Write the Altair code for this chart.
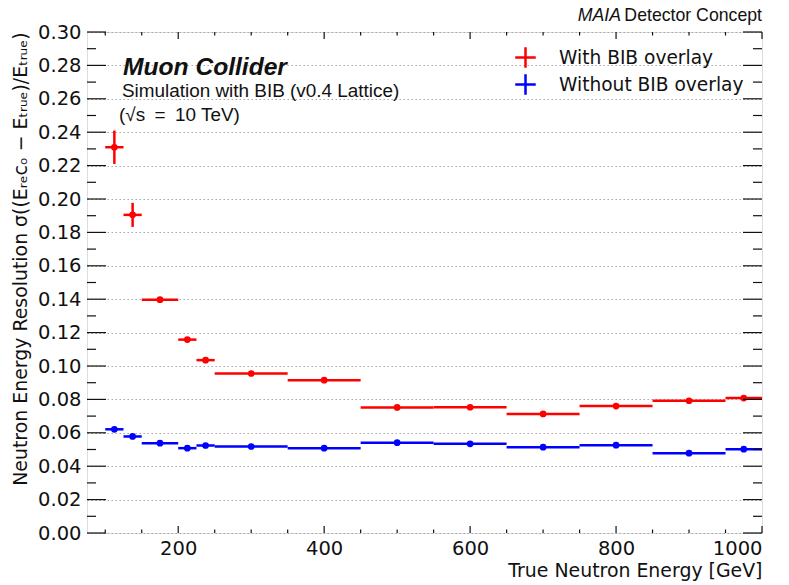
import altair as alt
import pandas as pd

# ---------------- data ----------------
bin_lo = [100, 125, 150, 200, 225, 250, 350, 450, 550, 650, 750, 850, 950]
bin_hi = [125, 150, 200, 225, 250, 350, 450, 550, 650, 750, 850, 950, 1000]
bin_center = [112.5, 137.5, 175, 212.5, 237.5, 300, 400, 500, 600, 700, 800, 900, 975]

res_bib = [0.231, 0.1905, 0.1397, 0.1158, 0.1035, 0.0955, 0.0915, 0.0752, 0.0753, 0.0713, 0.0760, 0.0792, 0.0808]
err_bib = [0.0100, 0.0072, 0.0013, 0.0015, 0.0015, 0.0010, 0.0010, 0.0008, 0.0008, 0.0008, 0.0008, 0.0008, 0.0008]

res_nobib = [0.0621, 0.0578, 0.0538, 0.0508, 0.0524, 0.0518, 0.0508, 0.0541, 0.0534, 0.0514, 0.0526, 0.0478, 0.0502]
err_nobib = [0.0012, 0.0010, 0.0008, 0.0008, 0.0008, 0.0006, 0.0006, 0.0006, 0.0006, 0.0006, 0.0006, 0.0006, 0.0006]

series_names = ["With BIB overlay", "Without BIB overlay"]
series_colors = ["#ff0000", "#0000ff"]

y_major = [0.00, 0.02, 0.04, 0.06, 0.08, 0.10, 0.12, 0.14, 0.16, 0.18, 0.20, 0.22, 0.24, 0.26, 0.28, 0.30]
y_minor = [0.01, 0.03, 0.05, 0.07, 0.09, 0.11, 0.13, 0.15, 0.17, 0.19, 0.21, 0.23, 0.25, 0.27, 0.29]
x_major = [200, 400, 600, 800, 1000]
x_minor = [100, 150, 250, 300, 350, 450, 500, 550, 650, 700, 750, 850, 900, 950]

x_domain = [75, 1000]
y_domain = [0.0, 0.30]

# ---------------- layout ----------------
W, H = 675, 501
PAD = {"left": 87, "top": 32, "right": 27, "bottom": 52}

rows = []
for name, vals, errs in [(series_names[0], res_bib, err_bib), (series_names[1], res_nobib, err_nobib)]:
    for lo, hi, c, v, e in zip(bin_lo, bin_hi, bin_center, vals, errs):
        rows.append({"series": name, "lo": lo, "hi": hi, "center": c, "val": v,
                     "ylo": v - e, "yhi": v + e})
df = pd.DataFrame(rows)

xs = alt.Scale(domain=x_domain, nice=False, zero=False)
ys = alt.Scale(domain=y_domain, nice=False, zero=False)
cs = alt.Scale(domain=series_names, range=series_colors)

legend = alt.Legend(
    title=None, orient="none", legendX=427, legendY=14, padding=0,
    symbolType="M-1,0H1M0,-1V1", symbolSize=420, symbolStrokeWidth=2.5,
    labelFont="DejaVu Sans", labelFontSize=18.6, labelColor="#111111",
    labelOffset=22, rowPadding=-4, labelLimit=0, symbolFillColor="transparent",
)

xaxis = alt.Axis(
    values=x_major, format="d", ticks=False, tickSize=0, domain=False, grid=False,
    labelFont="DejaVu Sans", labelFontSize=19.5, labelColor="#111111", labelPadding=6,
    title="True Neutron Energy [GeV]", titleFont="DejaVu Sans", titleFontSize=18.9,
    titleFontWeight="normal", titleColor="#111111", titleAnchor="end", titlePadding=4,
)
yaxis = alt.Axis(
    values=y_major, format=".2f", ticks=False, tickSize=0, domain=False, grid=True,
    gridColor="#a8a8a8", gridDash=[1.5, 2.5], gridWidth=1,
    labelFont="DejaVu Sans", labelFontSize=19.5, labelColor="#111111", labelPadding=6,
    title="Neutron Energy Resolution σ((Eᵣₑcₒ − Eₜᵣᵤₑ)/Eₜᵣᵤₑ)",
    titleFont="DejaVu Sans", titleFontSize=18.9, titleFontWeight="normal",
    titleColor="#111111", titleAnchor="end", titlePadding=7,
)

base = alt.Chart(df)
hbar = base.mark_rule(strokeWidth=2.5).encode(
    x=alt.X("lo:Q", scale=xs, axis=xaxis),
    x2="hi:Q",
    y=alt.Y("val:Q", scale=ys, axis=yaxis),
    color=alt.Color("series:N", scale=cs, legend=legend),
)
vbar = base.mark_rule(strokeWidth=2.5).encode(
    x=alt.X("center:Q", scale=xs, axis=xaxis),
    y=alt.Y("ylo:Q", scale=ys, axis=yaxis),
    y2="yhi:Q",
    color=alt.Color("series:N", scale=cs, legend=legend),
)
pts = base.mark_circle(size=45, opacity=1).encode(
    x=alt.X("center:Q", scale=xs, axis=xaxis),
    y=alt.Y("val:Q", scale=ys, axis=yaxis),
    fill=alt.Fill("series:N", scale=cs, legend=None),
)


def ytick_layer(values, length, side):
    d = pd.DataFrame({"v": values})
    x0, x1 = (0, length) if side == "left" else (W, W - length)
    return alt.Chart(d).mark_rule(color="#111111", strokeWidth=1.2).encode(
        y=alt.Y("v:Q", scale=ys, axis=yaxis), x=alt.value(x0), x2=alt.value(x1))


def xtick_layer(values, length, side):
    d = pd.DataFrame({"v": values})
    y0, y1 = (H, H - length) if side == "bottom" else (0, length)
    return alt.Chart(d).mark_rule(color="#111111", strokeWidth=1.2).encode(
        x=alt.X("v:Q", scale=xs, axis=xaxis), y=alt.value(y0), y2=alt.value(y1))


def text_layer(txt, x, y, size, font="Liberation Sans", style="normal", weight="normal", align="left"):
    d = pd.DataFrame({"t": [txt]})
    return alt.Chart(d).mark_text(
        font=font, fontSize=size, fontStyle=style, fontWeight=weight, align=align,
        baseline="alphabetic", color="#111111",
    ).encode(text="t:N", x=alt.value(x), y=alt.value(y))


ticks = [
    ytick_layer(y_major, 19, "left"), ytick_layer(y_minor, 9, "left"),
    ytick_layer(y_major, 19, "right"), ytick_layer(y_minor, 9, "right"),
    xtick_layer(x_major, 7, "bottom"), xtick_layer(x_minor, 3.5, "bottom"),
    xtick_layer(x_major, 7, "top"), xtick_layer(x_minor, 3.5, "top"),
]

texts = [
    text_layer("Muon Collider", 36, 43, 24.6, style="italic", weight="bold"),
    text_layer("Simulation with BIB (v0.4 Lattice)", 35, 65, 18.9),
    text_layer("(√s\u2002=\u200210 TeV)", 32, 89, 18.9),
    text_layer("MAIA", 534, -11, 17.7, style="italic", align="right"),
    text_layer("Detector Concept", 675, -11, 17.7, align="right"),
]

chart = alt.layer(hbar, vbar, pts, *ticks, *texts).properties(
    width=W, height=H, padding=PAD,
    autosize=alt.AutoSizeParams(type="none"),
).configure_view(stroke="#111111", strokeWidth=1.5).configure(background="white")

chart.save("out.html", embed_options={"renderer": "svg", "actions": False})
